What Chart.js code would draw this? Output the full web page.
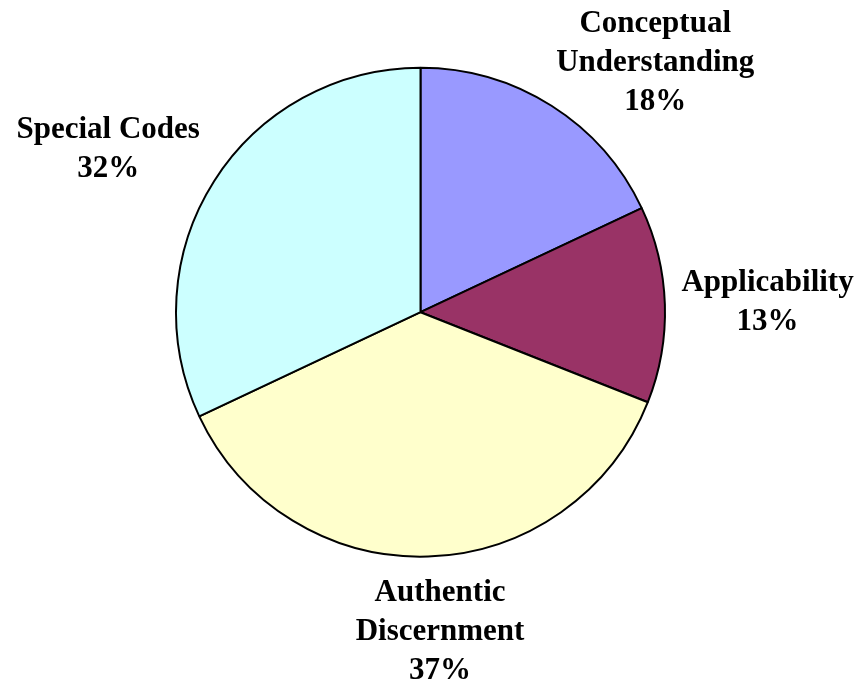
<!DOCTYPE html>
<html>
<head>
<meta charset="utf-8">
<script src="https://cdn.jsdelivr.net/npm/chart.js@4/dist/chart.umd.min.js"></script>
<style>
  html, body { margin: 0; padding: 0; background: #ffffff; }
  #wrap { width: 859px; height: 687px; position: relative; }
</style>
</head>
<body>
<div id="wrap"><canvas id="c" width="859" height="687"></canvas></div>
<script>
// ---- data ----
const categories = [["Conceptual", "Understanding"], ["Applicability"], ["Authentic", "Discernment"], ["Special Codes"]];
const shares = [18, 13, 37, 32];

// ---- styling / layout (not data) ----
const sliceColors = ["#9999FF", "#993366", "#FFFFCC", "#CCFFFF"];
// label placement: [angle shift from slice middle (deg), distance in radii]
const labelPlacement = [[10.9, 1.40], [0.2, 1.42], [-1.7, 1.31], [-4.9, 1.44]];
const labelFont = "bold 31px 'Liberation Serif', 'Times New Roman', serif";
const lineHeight = 39;

const outsideLabels = {
  id: "outsideLabels",
  afterDatasetsDraw(chart) {
    const ctx = chart.ctx;
    const meta = chart.getDatasetMeta(0);
    const total = shares.reduce((a, b) => a + b, 0);
    ctx.save();
    ctx.font = labelFont;
    ctx.fillStyle = "#000000";
    ctx.textAlign = "center";
    ctx.textBaseline = "middle";
    meta.data.forEach((arc, i) => {
      const p = arc.getProps(["x", "y", "startAngle", "endAngle", "outerRadius"], true);
      const mid = (p.startAngle + p.endAngle) / 2 + labelPlacement[i][0] * Math.PI / 180;
      const d = labelPlacement[i][1] * p.outerRadius;
      const cx = p.x + Math.cos(mid) * d;
      const cy = p.y + Math.sin(mid) * d;
      const lines = categories[i].concat([Math.round(shares[i] / total * 100) + "%"]);
      const top = cy - (lines.length - 1) * lineHeight / 2;
      lines.forEach((t, k) => ctx.fillText(t, cx, top + k * lineHeight));
    });
    ctx.restore();
  }
};

new Chart(document.getElementById("c"), {
  type: "pie",
  data: {
    labels: categories.map(c => c.join(" ")),
    datasets: [{
      data: shares,
      backgroundColor: sliceColors,
      borderColor: "#000000",
      borderWidth: 2
    }]
  },
  options: {
    responsive: false,
    animation: false,
    radius: 244.5,
    layout: { padding: { left: 170.5, right: 188.5, top: 62.2, bottom: 124.8 } },
    plugins: { legend: { display: false }, tooltip: { enabled: false } }
  },
  plugins: [outsideLabels]
});
</script>
</body>
</html>
